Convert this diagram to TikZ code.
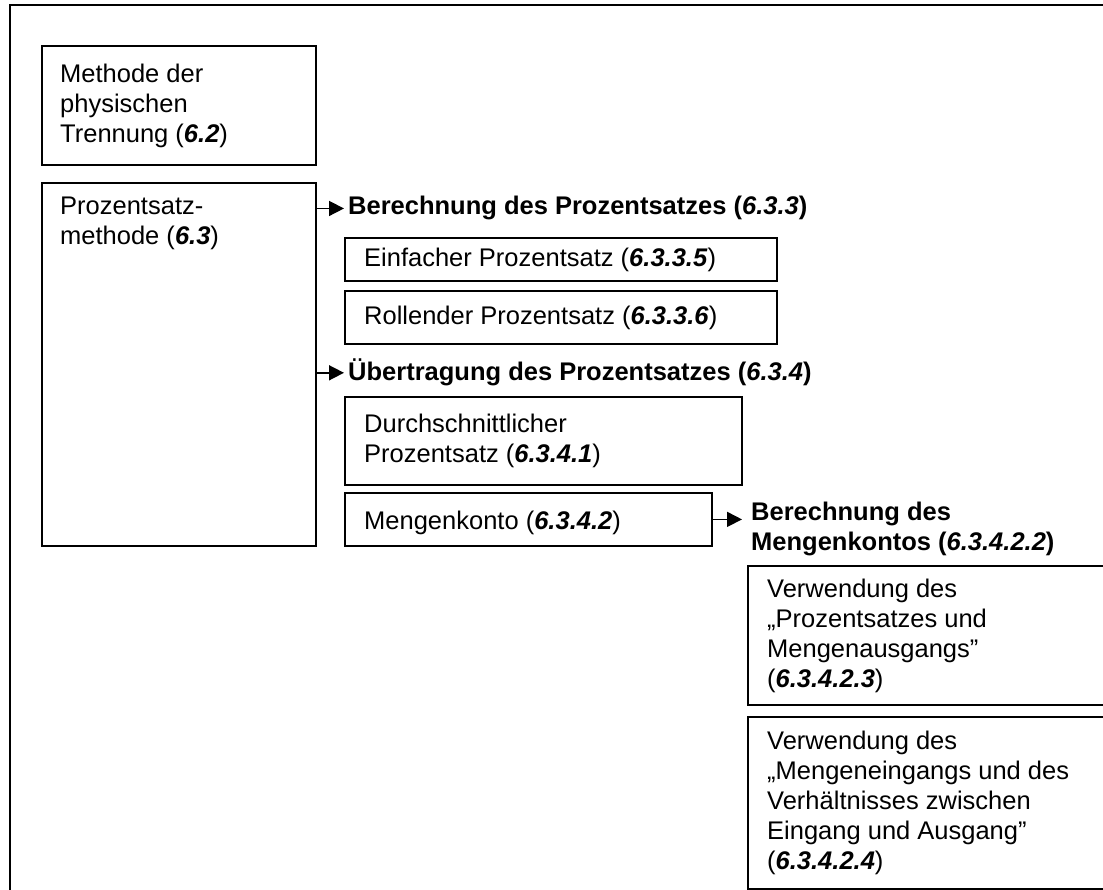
\documentclass[tikz,border=0pt]{standalone}
\usepackage{fontspec}
\setmainfont{Liberation Sans}
\usetikzlibrary{arrows.meta}
\newcommand\secnum[1]{\textbf{\textit{#1}}}
\begin{document}
\begin{tikzpicture}[x=1pt,y=-1pt,
  box/.style={draw, line width=1.8pt, fill=white, inner sep=0pt, anchor=north west},
  txt/.style={inner sep=0pt, align=left, font=\fontsize{25.5}{30}\selectfont},
  head/.style={inner sep=0pt, align=left, font=\fontsize{25.5}{30}\selectfont\bfseries},
  arr/.style={line width=1.6pt, -{Triangle[length=15pt,width=15pt]}},
  frame/.style={draw, line width=2.6pt}]
\useasboundingbox (0,0) rectangle (1103,890);
\clip (0,0) rectangle (1103,890);
\fill[white] (0,0) rectangle (1103,890);
\draw[frame] (10,5) rectangle (1130,910);

% boxes
\node[box, minimum width=274pt, minimum height=119pt] (b1) at (41,45) {};
\node[box, minimum width=274pt, minimum height=363pt] (b2) at (41,182) {};
\node[box, minimum width=432pt, minimum height=43pt] (b3) at (344,237) {};
\node[box, minimum width=432pt, minimum height=53pt] (b4) at (344,290) {};
\node[box, minimum width=397pt, minimum height=88pt] (b5) at (344,396) {};
\node[box, minimum width=367pt, minimum height=53pt] (b6) at (344,492) {};
\node[box, minimum width=362pt, minimum height=139pt] (b7) at (747,565) {};
\node[box, minimum width=362pt, minimum height=172pt] (b8) at (747,716) {};

% texts
\node[txt, anchor=north west] (t1) at (60,61) {\strut Methode der\\physischen\\Trennung (\secnum{6.2})};
\node[txt, anchor=north west] (t2) at (60,193) {\strut Prozentsatz-\\methode (\secnum{6.3})};
\node[head, anchor=base west] (h1) at (348,215) {Berechnung des Prozentsatzes (\textit{6.3.3})};
\node[txt, anchor=base west] (t3) at (364,267) {Einfacher Prozentsatz (\secnum{6.3.3.5})};
\node[txt, anchor=base west] (t4) at (364,325) {Rollender Prozentsatz (\secnum{6.3.3.6})};
\node[head, anchor=base west] (h2) at (348,381) {Übertragung des Prozentsatzes (\textit{6.3.4})};
\node[txt, anchor=north west] (t5) at (364,411) {\strut Durchschnittlicher\\Prozentsatz (\secnum{6.3.4.1})};
\node[txt, anchor=base west] (t6) at (364,529) {Mengenkonto (\secnum{6.3.4.2})};
\node[head, anchor=north west] (h3) at (751,499) {\strut Berechnung des\\Mengenkontos (\textit{6.3.4.2.2})};
\node[txt, anchor=north west] (t7) at (767,576) {\strut Verwendung des\\„Prozentsatzes und\\Mengenausgangs”\\(\secnum{6.3.4.2.3})};
\node[txt, anchor=north west] (t8) at (767,728) {\strut Verwendung des\\„Mengeneingangs und des\\Verhältnisses zwischen\\Eingang und Ausgang”\\(\secnum{6.3.4.2.4})};

% connectors
\draw[arr] (b2.east |- h1.west) -- ([xshift=-4pt]h1.west);
\draw[arr] (b2.east |- h2.west) -- ([xshift=-4pt]h2.west);
\draw[arr] (b6.east) -- ([xshift=-9pt]b6.east -| h3.west);
\end{tikzpicture}
\end{document}
